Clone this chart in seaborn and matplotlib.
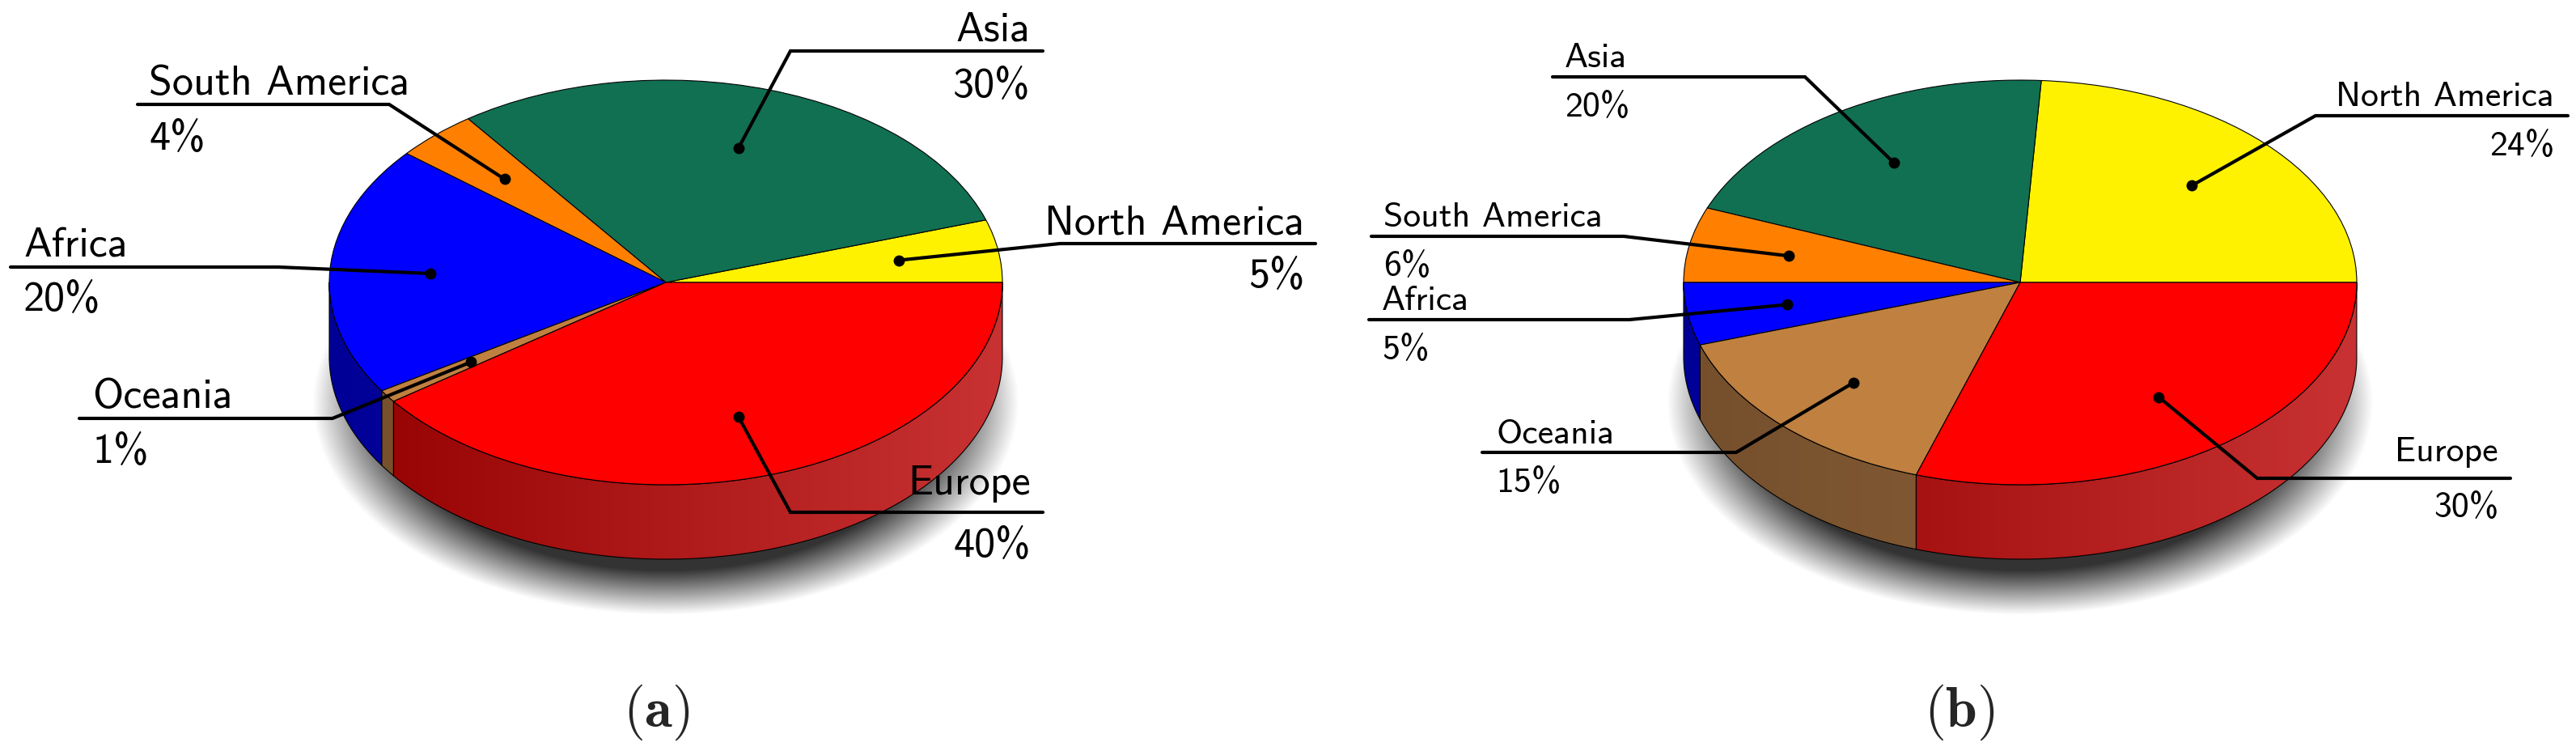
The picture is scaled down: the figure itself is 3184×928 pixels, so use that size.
# plot.py
import numpy as np
import pandas as pd
import matplotlib.pyplot as plt
import seaborn as sns
from matplotlib.patches import PathPatch
from matplotlib.path import Path

continents = ['North America', 'Asia', 'South America', 'Africa', 'Oceania', 'Europe']
share_a = [5, 30, 4, 20, 1, 40]
share_b = [24, 20, 6, 5, 15, 30]
top_colors = ['#fff200', '#117052', '#ff8000', '#0000ff', '#bf8040', '#ff0000']

# colores de la pared lateral (izquierda, derecha), solo se ven estos tres
side_colors = {
    'Africa': ('#000096', '#1e1ebe'),
    'Oceania': ('#754f2c', '#92693f'),
    'Europe': ('#940000', '#c83232'),
}

W, H = 3184, 929
RX, RY, DEPTH = 416, 250, 92
CY = 350

# posicion de cada etiqueta en pixeles: knee x, line y, line end x, text x, label y, pct y
layout_a = {
    'North America': (1310, 302, 1626, 1612, 289, 355),
    'Asia': (977, 64, 1289, 1273, 50, 120),
    'South America': (481, 130, 170, 184, 117, 185),
    'Africa': (344, 331, 13, 29, 317, 384),
    'Oceania': (411, 518, 98, 114, 504, 572),
    'Europe': (977, 634, 1289, 1274, 611, 688),
}
layout_b = {
    'North America': (2862, 144, 3174, 3157, 131, 192),
    'Asia': (2231, 96, 1919, 1934, 83, 144),
    'South America': (2007, 293, 1695, 1710, 280, 341),
    'Africa': (2014, 396, 1692, 1708, 383, 444),
    'Oceania': (2146, 560, 1832, 1849, 548, 608),
    'Europe': (2790, 592, 3103, 3088, 570, 639),
}

sns.set_theme(style='white')
plt.rcParams['mathtext.fontset'] = 'cm'
plt.rcParams['font.family'] = ['cmss10', 'DejaVu Sans']
plt.rcParams['axes.unicode_minus'] = False

fig = plt.figure(figsize=(W / 100, H / 100), dpi=100, facecolor='white')
shadow_cmap = sns.blend_palette(['#333333', '#ffffff'], as_cmap=True)


def draw_pie(df, cx):
    """Pastel 3D: sombra, pared lateral y cara superior en coordenadas de radio."""
    ax = fig.add_axes([0, 0, 1, 1], facecolor='none')
    h = DEPTH / RY

    # sombra difusa bajo el pastel
    xs = np.linspace(-1.05, 1.05, 600)
    ys = np.linspace(-1.05, 1.05, 600)
    gx, gy = np.meshgrid(xs, ys)
    d = np.hypot(gx / 1.05, gy / 1.05)
    shade = np.clip((d - 0.79) / 0.21, 0, 1)
    shade[d > 1] = 1
    ax.imshow(shade, extent=(-1.05, 1.05, -0.592 - 1.05, -0.592 + 1.05), origin='lower',
              cmap=shadow_cmap, vmin=0, vmax=1, aspect='auto', zorder=1)

    # pared lateral, solo la parte de abajo de cada porcion
    ends = np.cumsum(df['share'].to_numpy()) * 3.6
    starts = ends - df['share'].to_numpy() * 3.6
    for name, a0, a1 in zip(df['continent'], starts, ends):
        lo, hi = max(a0, 180), min(a1, 360)
        if hi <= lo:
            continue
        t = np.radians(np.linspace(lo, hi, 200))
        px = np.r_[np.cos(t), np.cos(t[::-1]), np.cos(t[0])]
        py = np.r_[np.sin(t), np.sin(t[::-1]) - h, np.sin(t[0])]
        outline = PathPatch(Path(np.c_[px, py]), facecolor='none', edgecolor='black',
                            lw=0.8, zorder=3)
        ax.add_patch(outline)
        cmap = sns.blend_palette(side_colors[name], as_cmap=True)
        ramp = np.linspace(0, 1, 512).reshape(1, -1)
        im = ax.imshow(ramp, extent=(-1, 1, -1 - h, 1), cmap=cmap, vmin=0, vmax=1,
                       aspect='auto', zorder=2)
        im.set_clip_path(outline)

    # cara superior
    ax.pie(df['share'], colors=top_colors, startangle=0, counterclock=True, normalize=True,
           wedgeprops=dict(edgecolor='black', linewidth=0.8, zorder=4))
    ax.set_aspect('auto')
    ax.set_xlim((0 - cx) / RX, (W - cx) / RX)
    ax.set_ylim((CY - H) / RY, CY / RY)
    ax.axis('off')


def draw_labels(ov, df, cx, layout, fontsize):
    ends = np.cumsum(df['share'].to_numpy()) * 3.6
    mids = np.radians(ends - df['share'].to_numpy() * 1.8)
    for name, share, mid in zip(df['continent'], df['share'], mids):
        knee_x, line_y, end_x, text_x, label_y, pct_y = layout[name]
        dot_x = cx + 0.7 * RX * np.cos(mid)
        dot_y = CY - 0.7 * RY * np.sin(mid)
        ov.plot([dot_x, knee_x, end_x], [dot_y, line_y, line_y], color='black', lw=3.0,
                solid_joinstyle='miter', zorder=6)
        ov.plot(dot_x, dot_y, 'o', color='black', ms=10, mew=0, zorder=7)
        ha = 'right' if end_x > knee_x else 'left'
        ov.text(text_x, label_y, name, ha=ha, va='baseline', fontsize=fontsize, color='black', zorder=8)
        ov.text(text_x, pct_y, f'{share}%', ha=ha, va='baseline', fontsize=fontsize, color='black', zorder=8)


df_a = pd.DataFrame({'continent': continents, 'share': share_a})
df_b = pd.DataFrame({'continent': continents, 'share': share_b})

draw_pie(df_a, 823)
draw_pie(df_b, 2497)

overlay = fig.add_axes([0, 0, 1, 1], facecolor='none')
overlay.set_xlim(0, W)
overlay.set_ylim(H, 0)
overlay.axis('off')

draw_labels(overlay, df_a, 823, layout_a, 37.5)
draw_labels(overlay, df_b, 2497, layout_b, 31.5)

overlay.text(811, 898, r'$(\mathbf{a})$', ha='center', va='baseline', fontsize=50)
overlay.text(2422, 898, r'$(\mathbf{b})$', ha='center', va='baseline', fontsize=50)

fig.savefig('out.png', dpi=100)
